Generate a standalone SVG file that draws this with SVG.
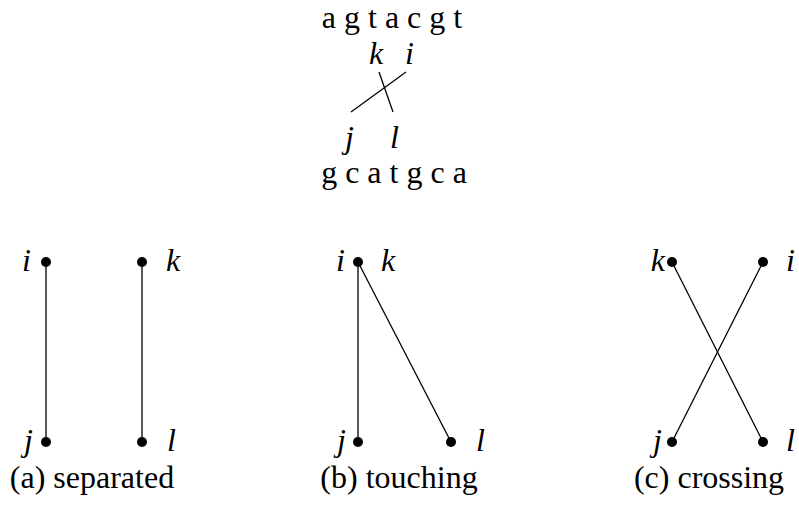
<svg xmlns="http://www.w3.org/2000/svg" width="799" height="506" viewBox="0 0 799 506">
<rect width="799" height="506" fill="#fff"/>
<g id="top">
<text style="font-family:'Liberation Serif',serif !important;font-size:32px" x="392" y="28" text-anchor="middle">a g t a c g t</text>
<text style="font-family:'Liberation Serif',serif !important;font-size:32px;font-style:italic" x="369" y="64">k</text>
<text style="font-family:'Liberation Serif',serif !important;font-size:32px;font-style:italic" x="405" y="64">i</text>
<text style="font-family:'Liberation Serif',serif !important;font-size:32px;font-style:italic" x="345" y="148">j</text>
<text style="font-family:'Liberation Serif',serif !important;font-size:32px;font-style:italic" x="390" y="148">l</text>
<text style="font-family:'Liberation Serif',serif !important;font-size:32px" x="394" y="183" text-anchor="middle">g c a t g c a</text>
<g stroke="#000" stroke-width="1.3" fill="none">
<line x1="351" y1="112" x2="406" y2="72"/>
<line x1="379" y1="72" x2="393" y2="112"/>
</g>
</g>
<g id="connectors" stroke="#000" stroke-width="1.3" fill="none">
<line x1="46" y1="262" x2="46" y2="442"/>
<line x1="142" y1="262" x2="142" y2="442"/>
<line x1="358" y1="262" x2="358" y2="442"/>
<line x1="358" y1="262" x2="451" y2="442"/>
<line x1="672" y1="262" x2="763" y2="442"/>
<line x1="763" y1="262" x2="672" y2="442"/>
</g>
<g id="a-i"><circle cx="46" cy="262" r="5"/><text style="font-family:'Liberation Serif',serif !important;font-size:32px;font-style:italic" x="31" y="271" text-anchor="end">i</text></g>
<g id="a-k"><circle cx="142" cy="262" r="5"/><text style="font-family:'Liberation Serif',serif !important;font-size:32px;font-style:italic" x="166" y="271">k</text></g>
<g id="a-j"><circle cx="46" cy="442" r="5"/><text style="font-family:'Liberation Serif',serif !important;font-size:32px;font-style:italic" x="33" y="451" text-anchor="end">j</text></g>
<g id="a-l"><circle cx="142" cy="442" r="5"/><text style="font-family:'Liberation Serif',serif !important;font-size:32px;font-style:italic" x="167" y="451">l</text></g>
<text id="cap-a" style="font-family:'Liberation Serif',serif !important;font-size:32px" x="92" y="488" text-anchor="middle">(a) separated</text>
<g id="b-ik"><circle cx="358" cy="262" r="5"/><text style="font-family:'Liberation Serif',serif !important;font-size:32px;font-style:italic" x="345" y="271" text-anchor="end">i</text><text style="font-family:'Liberation Serif',serif !important;font-size:32px;font-style:italic" x="381" y="271">k</text></g>
<g id="b-j"><circle cx="358" cy="442" r="5"/><text style="font-family:'Liberation Serif',serif !important;font-size:32px;font-style:italic" x="346" y="451" text-anchor="end">j</text></g>
<g id="b-l"><circle cx="451" cy="442" r="5"/><text style="font-family:'Liberation Serif',serif !important;font-size:32px;font-style:italic" x="476" y="451">l</text></g>
<text id="cap-b" style="font-family:'Liberation Serif',serif !important;font-size:32px" x="399" y="488" text-anchor="middle">(b) touching</text>
<g id="c-k"><circle cx="672" cy="262" r="5"/><text style="font-family:'Liberation Serif',serif !important;font-size:32px;font-style:italic" x="665" y="271" text-anchor="end">k</text></g>
<g id="c-i"><circle cx="763" cy="262" r="5"/><text style="font-family:'Liberation Serif',serif !important;font-size:32px;font-style:italic" x="786" y="271">i</text></g>
<g id="c-j"><circle cx="672" cy="442" r="5"/><text style="font-family:'Liberation Serif',serif !important;font-size:32px;font-style:italic" x="662" y="451" text-anchor="end">j</text></g>
<g id="c-l"><circle cx="763" cy="442" r="5"/><text style="font-family:'Liberation Serif',serif !important;font-size:32px;font-style:italic" x="786" y="451">l</text></g>
<text id="cap-c" style="font-family:'Liberation Serif',serif !important;font-size:32px" x="709" y="488" text-anchor="middle">(c) crossing</text>
</svg>
